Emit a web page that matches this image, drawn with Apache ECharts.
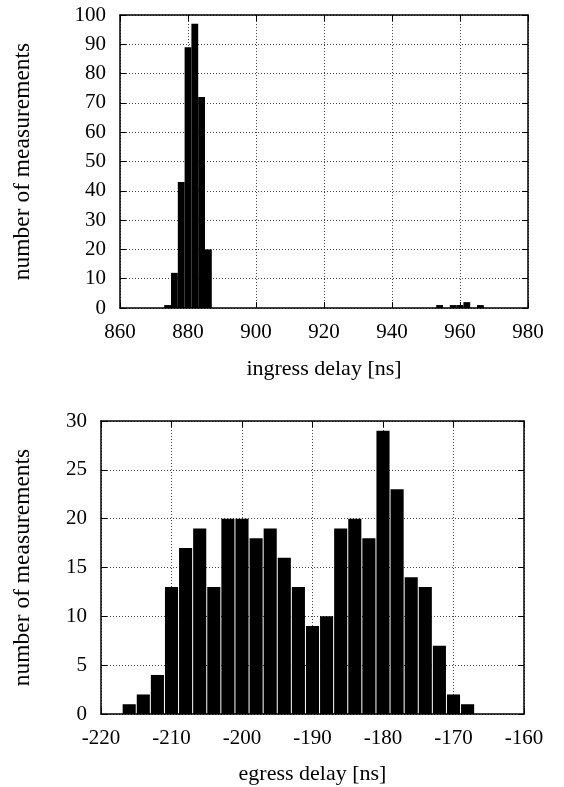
<!DOCTYPE html>
<html>
<head>
<meta charset="utf-8">
<script src="https://cdn.jsdelivr.net/npm/echarts@6/dist/echarts.min.js"></script>
<style>
html,body{margin:0;padding:0;background:#fff;}
#chart{width:564px;height:787px;}
</style>
</head>
<body>
<div id="chart"></div>
<script>
// ---- data ----
const ingressBins = [874, 876, 878, 880, 882, 884, 886, 954, 958, 960, 962, 966];
const ingressCounts = [1, 12, 43, 89, 97, 72, 20, 1, 1, 1, 2, 1];
const egressBins = [-216, -214, -212, -210, -208, -206, -204, -202, -200, -198, -196, -194, -192, -190, -188, -186, -184, -182, -180, -178, -176, -174, -172, -170, -168];
const egressCounts = [1, 2, 4, 13, 17, 19, 13, 20, 20, 18, 19, 16, 13, 9, 10, 19, 20, 18, 29, 23, 14, 13, 7, 2, 1];
const binWidth = 2;
const ingressTicks = [860, 880, 900, 920, 940, 960, 980];
const egressTicks = [-220, -210, -200, -190, -180, -170, -160];
const xTitles = ['ingress delay [ns]', 'egress delay [ns]'];
const yTitle = 'number of measurements';

const FONT = '"Liberation Serif", "DejaVu Serif", serif';
const chart = echarts.init(document.getElementById('chart'));

function pairs(xs, ys) { return xs.map((x, i) => [x, ys[i]]); }

function boxRenderer(gap) {
  return function (params, api) {
    const x = api.value(0), y = api.value(1);
    const p0 = api.coord([x - binWidth / 2, y]);
    const p1 = api.coord([x + binWidth / 2, 0]);
    return {
      type: 'rect',
      shape: { x: p0[0] + gap / 2, y: p0[1], width: p1[0] - p0[0] - gap, height: p1[1] - p0[1] },
      style: { fill: '#000' }
    };
  };
}

const gridLine = { show: true, lineStyle: { color: '#444', type: [1, 2], width: 1 } };
const labelStyle = { color: '#000', fontFamily: FONT, fontSize: 21 };

function xMain(gi, min, max, interval, name, nameGap) {
  return {
    type: 'value', gridIndex: gi, min: min, max: max, interval: interval, position: 'bottom',
    name: name, nameLocation: 'middle', nameGap: nameGap,
    nameTextStyle: { color: '#000', fontFamily: FONT, fontSize: 22 },
    axisLine: { show: true, onZero: false, lineStyle: { color: '#000', width: 1.5 } },
    axisTick: { show: true, inside: true, length: 6, lineStyle: { color: '#000' } },
    axisLabel: Object.assign({ margin: 14 }, labelStyle),
    splitLine: gridLine
  };
}
function xMirror(gi, min, max, interval) {
  return {
    type: 'value', gridIndex: gi, min: min, max: max, interval: interval, position: 'top',
    axisLine: { show: true, onZero: false, lineStyle: { color: '#000', width: 1.5 } },
    axisTick: { show: true, inside: true, length: 6, lineStyle: { color: '#000' } },
    axisLabel: { show: false }, splitLine: { show: false }
  };
}
function yMain(gi, min, max, interval, nameGap) {
  return {
    type: 'value', gridIndex: gi, min: min, max: max, interval: interval, position: 'left',
    name: yTitle, nameLocation: 'middle', nameGap: nameGap, nameRotate: 90,
    nameTextStyle: { color: '#000', fontFamily: FONT, fontSize: 23.5 },
    axisLine: { show: true, onZero: false, lineStyle: { color: '#000', width: 1.5 } },
    axisTick: { show: true, inside: true, length: 6, lineStyle: { color: '#000' } },
    axisLabel: Object.assign({ margin: 14 }, labelStyle),
    splitLine: gridLine
  };
}
function yMirror(gi, min, max, interval) {
  return {
    type: 'value', gridIndex: gi, min: min, max: max, interval: interval, position: 'right',
    axisLine: { show: true, onZero: false, lineStyle: { color: '#000', width: 1.5 } },
    axisTick: { show: true, inside: true, length: 6, lineStyle: { color: '#000' } },
    axisLabel: { show: false }, splitLine: { show: false }
  };
}

chart.setOption({
  backgroundColor: '#fff',
  animation: false,
  grid: [
    { left: 120, right: 36, top: 15, height: 293 },
    { left: 101, right: 40, top: 421, height: 293 }
  ],
  xAxis: [
    xMain(0, ingressTicks[0], ingressTicks[ingressTicks.length - 1], 20, xTitles[0], 50),
    xMain(1, egressTicks[0], egressTicks[egressTicks.length - 1], 10, xTitles[1], 49),
    xMirror(0, ingressTicks[0], ingressTicks[ingressTicks.length - 1], 20),
    xMirror(1, egressTicks[0], egressTicks[egressTicks.length - 1], 10)
  ],
  yAxis: [
    yMain(0, 0, 100, 10, 85),
    yMain(1, 0, 30, 5, 66),
    yMirror(0, 0, 100, 10),
    yMirror(1, 0, 30, 5)
  ],
  series: [
    {
      type: 'custom', xAxisIndex: 0, yAxisIndex: 0,
      data: pairs(ingressBins, ingressCounts),
      encode: { x: 0, y: 1 },
      renderItem: boxRenderer(0), clip: true, z: 1
    },
    {
      type: 'custom', xAxisIndex: 1, yAxisIndex: 1,
      data: pairs(egressBins, egressCounts),
      encode: { x: 0, y: 1 },
      renderItem: boxRenderer(1), clip: true, z: 1
    }
  ]
});
</script>
</body>
</html>
